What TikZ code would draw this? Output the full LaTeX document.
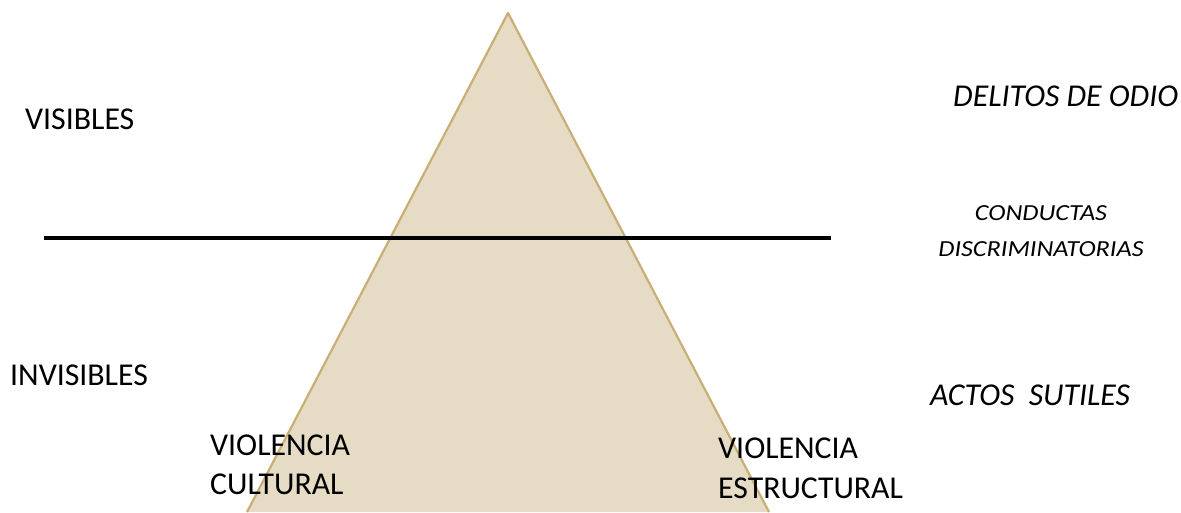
\documentclass[tikz,border=0pt]{standalone}
\usepackage{fontspec}
\setmainfont{Carlito}
\definecolor{trifill}{HTML}{E6DCC6}
\definecolor{tristroke}{HTML}{C9AE76}
\begin{document}
\begin{tikzpicture}[x=1pt,y=-1pt,
  lbl/.style={anchor=base west,inner sep=0pt,font=\fontsize{31.8}{37}\selectfont},
  ilbl/.style={anchor=base west,inner sep=0pt,font=\fontsize{31.8}{37}\selectfont\itshape},
  slbl/.style={anchor=base,inner sep=0pt,font=\fontsize{23}{28}\selectfont\itshape\addfontfeature{FakeStretch=1.14}}]
\useasboundingbox[fill=white] (0,0) rectangle (1181,513);
\coordinate (apex) at (508,13);
\coordinate (bl) at (247,512);
\coordinate (br) at (769,512);
\fill[trifill] (apex) -- (bl) -- (br) -- cycle;
\draw[tristroke,line width=2.2pt,line join=round] (bl) -- (apex) -- (br);
\coordinate (l1) at (44,238);
\coordinate (l2) at (831,238);
\draw[black,line width=4pt] (l1) -- (l2);
\node[lbl] (vis) at (25,130) {VISIBLES};
\node[lbl] (invis) at (10,385) {INVISIBLES};
\node[lbl] (vc1) at (210,455) {VIOLENCIA};
\node[lbl] (vc2) at (210,494) {CULTURAL};
\node[lbl] (ve1) at (718,458) {VIOLENCIA};
\node[lbl] (ve2) at (718,498) {ESTRUCTURAL};
\node[ilbl] (odio) at (953,107) {DELITOS DE ODIO};
\node[slbl] (cond1) at (1041,221) {CONDUCTAS};
\node[slbl] (cond2) at (1041,257) {DISCRIMINATORIAS};
\node[ilbl] (actos) at (930,405) {ACTOS\ \ SUTILES};
\end{tikzpicture}
\end{document}
